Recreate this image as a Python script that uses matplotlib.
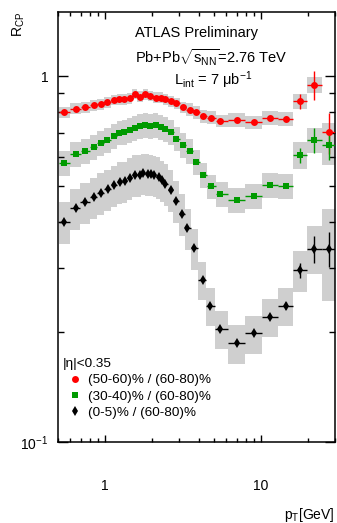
import numpy as np
import matplotlib
matplotlib.use("Agg")
import matplotlib.pyplot as plt
from matplotlib.ticker import FixedLocator, LogLocator, NullFormatter
from matplotlib.lines import Line2D

plt.rcParams['font.family'] = ['Liberation Sans', 'DejaVu Sans']
plt.rcParams['mathtext.fontset'] = 'custom'
plt.rcParams['mathtext.rm'] = 'Liberation Sans'
plt.rcParams['mathtext.it'] = 'Liberation Sans:italic'
plt.rcParams['mathtext.default'] = 'regular'

# (50-60)% / (60-80)%
pt_red = [0.55, 0.65, 0.75, 0.85, 0.94, 1.03, 1.15, 1.23, 1.33, 1.45, 1.56, 1.68,
          1.82, 1.96, 2.12, 2.29, 2.45, 2.65, 2.88, 3.18, 3.51, 3.87, 4.27, 4.83,
          5.46, 7.05, 9.02, 11.5, 14.6, 18.0, 22.1, 27.4]
rcp_red = [0.799, 0.816, 0.824, 0.835, 0.838, 0.849, 0.862, 0.867, 0.865, 0.871,
           0.895, 0.880, 0.893, 0.884, 0.874, 0.874, 0.867, 0.856, 0.845, 0.824,
           0.811, 0.799, 0.778, 0.771, 0.755, 0.762, 0.748, 0.769, 0.766, 0.856,
           0.949, 0.703]
stat_red = [0.003] * 27 + [0.005, 0.015, 0.048, 0.09, 0.13]
syst_red = [0.034] * 20 + [0.04] * 5 + [0.043] * 4 + [0.048, 0.048, 0.06]

# (30-40)% / (60-80)%
pt_green = pt_red
rcp_green = [0.580, 0.612, 0.625, 0.641, 0.657, 0.671, 0.686, 0.702, 0.706, 0.712,
             0.722, 0.732, 0.736, 0.733, 0.738, 0.727, 0.719, 0.705, 0.676, 0.648,
             0.624, 0.583, 0.537, 0.500, 0.476, 0.458, 0.471, 0.505, 0.501, 0.608,
             0.669, 0.648]
stat_green = [0.003] * 27 + [0.01, 0.012, 0.045, 0.08, 0.09]
syst_green = [0.078] * 29 + [0.085, 0.08, 0.115]

# (0-5)% / (60-80)%
pt_black = [0.55, 0.65, 0.746, 0.853, 0.943, 1.04, 1.15, 1.25, 1.34, 1.45, 1.56,
            1.67, 1.76, 1.88, 1.99, 2.08, 2.21, 2.33, 2.45, 2.64, 2.88, 3.12, 3.39,
            3.71, 4.25, 4.73, 5.46, 7.0, 9.0, 11.5, 14.6, 18.0, 22.1, 27.4]
rcp_black = [0.400, 0.436, 0.453, 0.468, 0.481, 0.492, 0.504, 0.515, 0.517, 0.528,
             0.538, 0.539, 0.544, 0.542, 0.541, 0.537, 0.532, 0.521, 0.509, 0.490,
             0.457, 0.421, 0.384, 0.339, 0.278, 0.236, 0.204, 0.186, 0.198, 0.220,
             0.236, 0.295, 0.338, 0.338]
stat_black = [0.004] * 29 + [0.01, 0.02, 0.045, 0.085, 0.11]
syst_black = [0.13] * 24 + [0.12] * 6 + [0.12, 0.13, 0.15, 0.28]

labels = ['(50-60)% / (60-80)%', '(30-40)% / (60-80)%', '(0-5)% / (60-80)%']
colors = ['#ff0000', '#009a00', '#000000']
markers = ['o', 's', 'd']
msizes = [5.0, 4.5, 5.2]

series = [(pt_red, rcp_red, stat_red, syst_red),
          (pt_green, rcp_green, stat_green, syst_green),
          (pt_black, rcp_black, stat_black, syst_black)]


def bin_edges(x):
    x = np.asarray(x)
    mid = np.sqrt(x[:-1] * x[1:])
    lo = np.concatenate([[x[0] ** 2 / mid[0]], mid])
    hi = np.concatenate([mid, [x[-1] ** 2 / mid[-1]]])
    return lo, hi


fig = plt.figure(figsize=(3.37, 5.23), dpi=100)
ax = fig.add_axes([0.172, 0.155, 0.822, 0.822])
ax.set_xscale('log')
ax.set_yscale('log')

# systematic boxes first, so all points sit on top
for x, y, st, sy in series:
    lo, hi = bin_edges(x)
    y = np.asarray(y)
    err = y * np.asarray(sy)
    ax.bar(lo, 2 * err, width=hi - lo, bottom=y - err, align='edge',
           color='#cfcfcf', linewidth=0, zorder=1)

for (x, y, st, sy), c, m, ms in zip(series, colors, markers, msizes):
    lo, hi = bin_edges(x)
    x = np.asarray(x)
    y = np.asarray(y)
    ax.errorbar(x, y, xerr=[x - lo, hi - x], yerr=y * np.asarray(st),
                fmt=m, color=c, ms=ms, mew=0, elinewidth=1.0, capsize=0,
                zorder=3)

ax.set_xlim(0.5, 30)
ax.set_ylim(0.1, 1.5)

ax.xaxis.set_major_locator(FixedLocator([1, 10]))
ax.set_xticklabels(['1', '10'])
ax.xaxis.set_minor_locator(LogLocator(base=10, subs=np.arange(2, 10)))
ax.xaxis.set_minor_formatter(NullFormatter())
ax.yaxis.set_major_locator(FixedLocator([0.1, 1]))
ax.set_yticklabels([r'$10^{-1}$', '1'])
ax.yaxis.set_minor_locator(LogLocator(base=10, subs=np.arange(2, 10)))
ax.yaxis.set_minor_formatter(NullFormatter())

ax.tick_params(which='both', direction='in', top=True, right=True, width=1.0,
               labelsize=10)
ax.tick_params(axis='x', which='major', length=5, pad=27)
ax.tick_params(axis='x', which='minor', length=3)
ax.tick_params(axis='y', which='major', length=7, pad=7)
ax.tick_params(axis='y', which='minor', length=4.5)
for s in ax.spines.values():
    s.set_linewidth(1.1)

ax.set_xlabel(r'p$_{T}$[GeV]', fontsize=10, loc='right')
ax.xaxis.set_label_coords(1.0, -0.149)
ax.set_ylabel(r'R$_{CP}$', fontsize=10, loc='top')
ax.yaxis.set_label_coords(-0.112, 1.0)

ax.text(0.278, 0.951, 'ATLAS Preliminary', transform=ax.transAxes,
        fontsize=10.5, va='center')
ax.text(0.278, 0.895, r'Pb+Pb$\sqrt{s_{NN}}$=2.76 TeV', transform=ax.transAxes,
        fontsize=10.5, va='center')
ax.text(0.42, 0.842, r'L$_{int}$ = 7 μb$^{-1}$', transform=ax.transAxes,
        fontsize=10.5, va='center')

ax.text(0.018, 0.181, '|η|<0.35', transform=ax.transAxes, fontsize=9.7,
        va='center')
handles = [Line2D([], [], marker=m, color=c, ls='none', ms=ms, mew=0)
           for c, m, ms in zip(colors, markers, msizes)]
ax.legend(handles, labels, loc='upper left', bbox_to_anchor=(0.018, 0.158),
          frameon=False, fontsize=9.7, handlelength=1.8, handletextpad=0.05,
          labelspacing=0.28, borderpad=0, borderaxespad=0)

fig.savefig('out.png', dpi=100)
